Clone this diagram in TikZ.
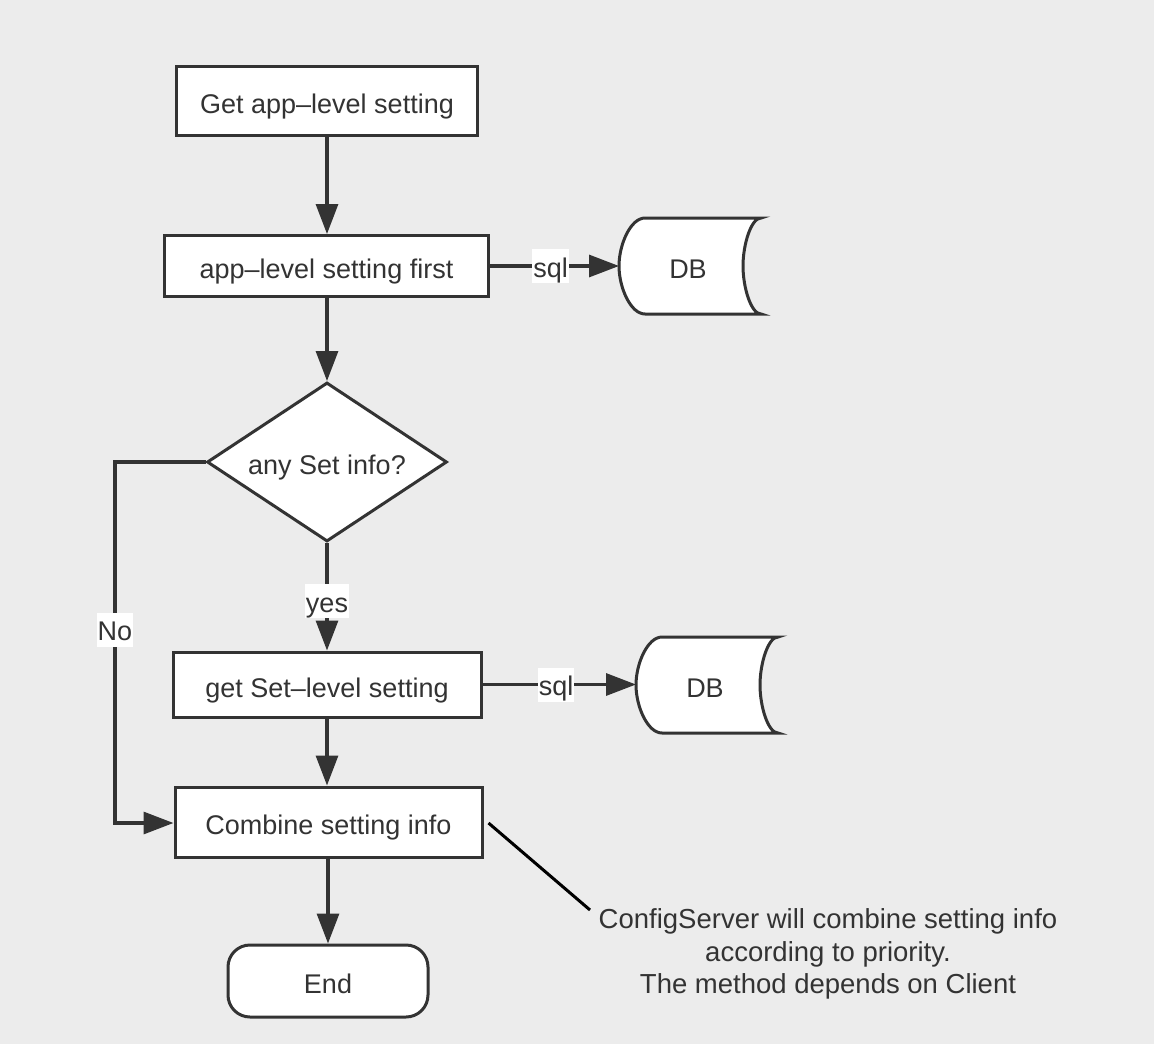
\documentclass[tikz,border=0pt]{standalone}
\usepackage{fontspec}
\setmainfont{Liberation Sans}
\usetikzlibrary{arrows.meta,shapes.geometric,calc}
\definecolor{bg}{HTML}{ECECEC}
\definecolor{ink}{HTML}{333333}
\newcommand\mainfs{\fontsize{27}{32}\selectfont}
\newcommand\notefs{\fontsize{27.5}{32.5}\selectfont}
\tikzset{
  box/.style={draw=ink, line width=3pt, fill=white, inner sep=0pt, text=ink, font=\mainfs, text height=25pt, text depth=0pt},
  arr/.style={draw=ink, line width=3.2pt, -{Triangle[length=30pt,width=22pt]}},
  lbl/.style={fill=white, inner sep=1pt, text=ink, font=\mainfs, text height=27pt, text depth=5pt},
  dbtext/.style={inner sep=0pt, minimum width=142pt, minimum height=96pt, text=ink, font=\mainfs, text height=25pt, text depth=0pt},
  dbpic/.pic={
    \path[draw=ink, line width=3pt, fill=white]
      (71,-48) -- (-45,-48)
      .. controls (-59.4,-48) and (-71,-21.5) .. (-71,0)
      .. controls (-71,21.5) and (-59.4,48) .. (-45,48)
      -- (71,48)
      .. controls (61.1,48) and (53,21.5) .. (53,0)
      .. controls (53,-21.5) and (61.1,-48) .. (71,-48) -- cycle;
  }
}
\begin{document}
\begin{tikzpicture}[x=1pt,y=-1pt]
\useasboundingbox[fill=bg] (0,0) rectangle (1154,1044);

\node[box, minimum width=301pt, minimum height=69pt] (b1) at (327,101) {Get app–level setting};
\node[box, minimum width=324pt, minimum height=61pt] (b2) at (326.5,266) {app–level setting first};
\node[box, diamond, aspect=1.51, minimum width=240pt, minimum height=159pt] (d1) at (327,462) {any Set info?};
\node[box, minimum width=308pt, minimum height=65pt] (b3) at (327,684.5) {get Set–level setting};
\node[box, minimum width=307pt, minimum height=70pt] (b4) at (328.5,822) {Combine setting info};
\node[box, rounded corners=22pt, minimum width=200pt, minimum height=72pt] (e1) at (328,981) {End};

\pic at (690,266) {dbpic};
\node[dbtext] (db1) at (688,266) {DB};
\pic at (707,685) {dbpic};
\node[dbtext] (db2) at (705,685) {DB};

\draw[arr] (b1.south) -- (b1.south |- b2.north);
\draw[arr] (b2.east) -- node[lbl, pos=0.47] {sql} (b2.east -| 619,0);
\draw[arr] (b2.south -| d1.north) -- (d1.north);
\draw[arr] (d1.south) -- node[lbl, pos=0.54] {yes} (d1.south |- b3.north);
\draw[arr] (b3.east) -- node[lbl, pos=0.48] {sql} (b3.east -| 636,0);
\draw[arr] (b3.south -| d1.south) -- (d1.south |- b4.north);
\draw[arr] (d1.west) -- (115,462) -- node[lbl, pos=0.465] {No} (115,823) -- (b4.west |- 0,823);
\draw[arr] (b4.south -| e1.north) -- (e1.north);

\coordinate (np) at (590,910);
\draw[black, line width=3pt] ($(b4.east)+(5,1)$) -- (np);
\node[text=ink, font=\notefs, align=center, inner sep=0pt] (note) at (828,954)
  {ConfigServer will combine setting info\\according to priority.\\The method depends on Client};
\end{tikzpicture}
\end{document}
